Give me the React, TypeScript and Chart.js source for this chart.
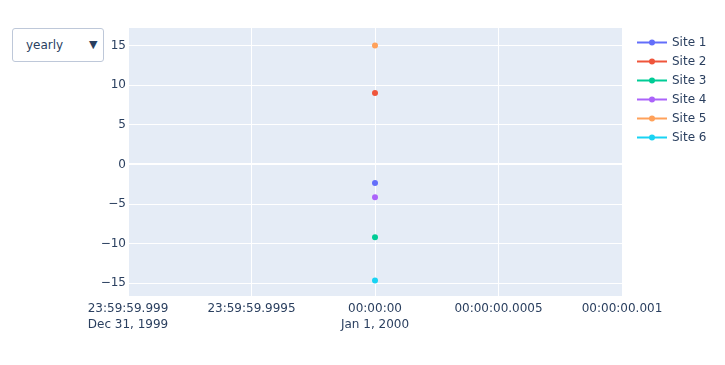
import React, { useEffect, useRef } from "react";
import { Chart, registerables } from "chart.js";

Chart.register(...registerables);

// ---- data ----
const seriesNames = ["Site 1", "Site 2", "Site 3", "Site 4", "Site 5", "Site 6"];
const seriesValues = [-2.35, 9.0, -9.2, -4.15, 15.0, -14.65];
const seriesColors = ["#636efa", "#EF553B", "#00cc96", "#ab63fa", "#FFA15A", "#19d3f3"];
// x is milliseconds relative to 2000-01-01 00:00:00
const pointOffsetMs = [0];
const xTickValues = [-1, -0.5, 0, 0.5, 1];
const xTickLabels = [
  ["23:59:59.999", "Dec 31, 1999"],
  ["23:59:59.9995"],
  ["00:00:00", "Jan 1, 2000"],
  ["00:00:00.0005"],
  ["00:00:00.001"],
];
const yTickValues = [-15, -10, -5, 0, 5, 10, 15];
const yRange = [-16.6, 17.2];
const xRange = [-1, 1];
const dropdownLabel = "yearly";

const FONT = "'DejaVu Sans', Verdana, sans-serif";
const TEXT = "#2a3f5f";

const legendPlugin = {
  id: "plotlyLegend",
  afterDraw(chart: any) {
    const ctx = chart.ctx;
    ctx.save();
    chart.data.datasets.forEach((ds: any, i: number) => {
      const y = 42.5 + i * 19;
      ctx.strokeStyle = ds.borderColor;
      ctx.lineWidth = 2;
      ctx.beginPath();
      ctx.moveTo(637, y);
      ctx.lineTo(667, y);
      ctx.stroke();
      ctx.fillStyle = ds.borderColor;
      ctx.beginPath();
      ctx.arc(652, y, 3, 0, Math.PI * 2);
      ctx.fill();
      ctx.fillStyle = TEXT;
      ctx.font = `12px ${FONT}`;
      ctx.textBaseline = "middle";
      ctx.textAlign = "left";
      ctx.fillText(ds.label, 672, y);
    });
    ctx.restore();
  },
};

const bgPlugin = {
  id: "plotBg",
  beforeDraw(chart: any) {
    const { ctx, chartArea } = chart;
    ctx.save();
    ctx.fillStyle = "#ffffff";
    ctx.fillRect(0, 0, chart.width, chart.height);
    ctx.fillStyle = "#E5ECF6";
    ctx.fillRect(chartArea.left, chartArea.top, chartArea.right - chartArea.left, chartArea.bottom - chartArea.top);
    ctx.restore();
  },
};

export default function App() {
  const ref = useRef<HTMLCanvasElement | null>(null);

  useEffect(() => {
    if (!ref.current) return;
    const chart = new Chart(ref.current, {
      type: "line",
      data: {
        datasets: seriesNames.map((name, i) => ({
          label: name,
          data: pointOffsetMs.map((x) => ({ x, y: seriesValues[i] })),
          borderColor: seriesColors[i],
          backgroundColor: seriesColors[i],
          pointRadius: 3,
          pointBorderWidth: 0,
          pointHoverRadius: 3,
          borderWidth: 2,
          showLine: true,
        })),
      },
      options: {
        responsive: false,
        animation: false,
        devicePixelRatio: 1,
        layout: { padding: { left: 0, right: 103, top: 28, bottom: 0 } },
        plugins: { legend: { display: false }, tooltip: { enabled: false } },
        scales: {
          x: {
            type: "linear",
            min: xRange[0],
            max: xRange[1],
            afterBuildTicks: (scale: any) => {
              scale.ticks = xTickValues.map((v) => ({ value: v }));
            },
            afterFit: (scale: any) => {
              scale.height = 69;
            },
            grid: { color: "#ffffff", lineWidth: 1, drawTicks: false },
            border: { display: false },
            ticks: {
              padding: 5,
              maxRotation: 0,
              autoSkip: false,
              color: TEXT,
              font: { family: FONT, size: 12, lineHeight: 1.3 },
              callback: (v: any) => {
                const idx = xTickValues.indexOf(Number(v));
                return idx >= 0 ? xTickLabels[idx] : "";
              },
            },
          },
          y: {
            type: "linear",
            min: yRange[0],
            max: yRange[1],
            afterBuildTicks: (scale: any) => {
              scale.ticks = yTickValues.map((v) => ({ value: v }));
            },
            afterFit: (scale: any) => {
              scale.width = 128;
            },
            grid: {
              color: "#ffffff",
              lineWidth: (c: any) => (c.tick && c.tick.value === 0 ? 2 : 1),
              drawTicks: false,
            },
            border: { display: false },
            ticks: {
              padding: 2,
              color: TEXT,
              font: { family: FONT, size: 12 },
              callback: (v: any) => {
                const n = Number(v);
                return n < 0 ? "\u2212" + Math.abs(n) : String(n);
              },
            },
          },
        },
      },
      plugins: [bgPlugin, legendPlugin],
    } as any);
    return () => chart.destroy();
  }, []);

  return (
    <div style={{ position: "absolute", left: 0, top: 0, width: 725, height: 365, background: "#fff" }}>
      <canvas ref={ref} width={725} height={365} style={{ width: 725, height: 365, display: "block" }} />
      <div
        style={{
          position: "absolute",
          left: 12,
          top: 28,
          width: 90,
          height: 32,
          border: "1px solid #BEC8D9",
          borderRadius: 3,
          background: "#ffffff",
          fontFamily: FONT,
          fontSize: 12,
          color: TEXT,
          boxSizing: "content-box",
        }}
      >
        <span style={{ position: "absolute", left: 13, top: 9 }}>{dropdownLabel}</span>
        <span style={{ position: "absolute", left: 76, top: 9, fontSize: 11, color: "#2a3f5f" }}>▼</span>
      </div>
    </div>
  );
}
